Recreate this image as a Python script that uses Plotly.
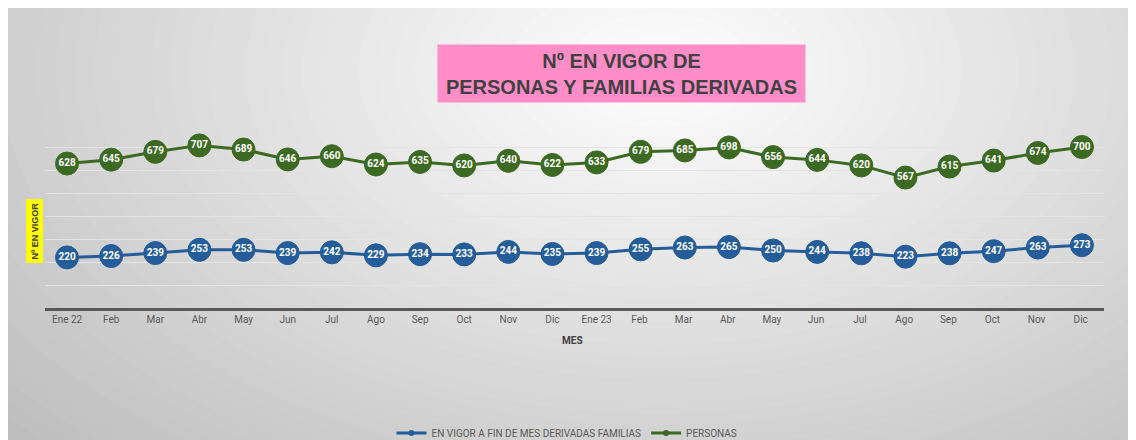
import plotly.graph_objects as go

# ---- data ----
months = ["Ene 22", "Feb", "Mar", "Abr", "May", "Jun", "Jul", "Ago", "Sep", "Oct", "Nov", "Dic",
          "Ene 23", "Feb ", "Mar ", "Abr ", "May ", "Jun ", "Jul ", "Ago ", "Sep ", "Oct ", "Nov ", "Dic "]
familias = [220, 226, 239, 253, 253, 239, 242, 229, 234, 233, 244, 235,
            239, 255, 263, 265, 250, 244, 238, 223, 238, 247, 263, 273]
personas = [628, 645, 679, 707, 689, 646, 660, 624, 635, 620, 640, 622,
            633, 679, 685, 698, 656, 644, 620, 567, 615, 641, 674, 700]
name_fam = "EN VIGOR A FIN DE MES DERIVADAS FAMILIAS"
name_per = "PERSONAS"

# page has an 8px body margin -> figure drawn at offset (8, 8)
OFF = 8
W, H = 1128, 432
ml, mr, mt, mb = 37, 32, 116, 132
pw, ph = W - ml - mr, H - mt - mb

def px2x(px):  # screen px -> paper x
    return (px - OFF - ml) / pw

def py2y(py):  # screen py -> paper y
    return (H - mb - (py - OFF)) / ph

BLUE = "#245d99"
GREEN = "#3d6a22"
TICK_FONT = "Liberation Sans Narrow, Arial Narrow, Roboto, sans-serif"

fig = go.Figure()

for vals, col, nm in [(familias, BLUE, name_fam), (personas, GREEN, name_per)]:
    fig.add_trace(go.Scatter(
        x=months, y=vals, mode="lines+markers+text", name=nm, showlegend=False,
        line=dict(color=col, width=3),
        marker=dict(size=23, color=col, line=dict(color=col, width=1)),
        text=[f"<b>{v}</b>" for v in vals], textposition="middle center",
        textfont=dict(color="white", size=10, family="Roboto, Liberation Sans, sans-serif"),
        cliponaxis=False,
    ))
    fig.add_trace(go.Scatter(
        x=[None], y=[None], mode="lines+markers", name=nm, showlegend=True,
        line=dict(color=col, width=3), marker=dict(size=6, color=col),
    ))

# background radial gradient
shapes = []
cx, cy, a, b = 660, 70, 650, 395
N = 50
rmax = 1.45
for i in range(N):
    r = rmax * (1 - i / N)
    g = int(max(190, min(255, 255 - 47 * r)))
    shapes.append(dict(type="circle", xref="paper", yref="paper", layer="below",
                       x0=px2x(cx - a * r), x1=px2x(cx + a * r),
                       y0=py2y(cy + b * r), y1=py2y(cy - b * r),
                       fillcolor=f"rgb({g},{g},{g})", line=dict(width=0)))

annotations = [
    dict(text="<b>Nº EN VIGOR DE<br>PERSONAS Y FAMILIAS DERIVADAS</b>",
         xref="paper", yref="paper", x=px2x(621), y=py2y(73.5),
         xanchor="center", yanchor="middle", showarrow=False,
         width=365, height=55, bgcolor="#ff8dc8",
         font=dict(family="Liberation Sans, Arial, sans-serif", size=20, color="#404040")),
    dict(text="<b>Nº EN VIGOR</b>", textangle=-90,
         xref="paper", yref="paper", x=px2x(34.5), y=py2y(231),
         xanchor="center", yanchor="middle", showarrow=False,
         bgcolor="#ffff00", borderpad=3,
         font=dict(family="Liberation Sans, Arial, sans-serif", size=9, color="#404040")),
    dict(text="<b>MES</b>", xref="paper", yref="paper", x=px2x(572), y=py2y(340),
         xanchor="center", yanchor="middle", showarrow=False,
         font=dict(family=TICK_FONT, size=10, color="#404040")),
]

fig.update_layout(
    width=W, height=H,
    margin=dict(l=ml, r=mr, t=mt, b=mb, autoexpand=False),
    paper_bgcolor="white", plot_bgcolor="rgba(0,0,0,0)",
    shapes=shapes, annotations=annotations,
    showlegend=True,
    legend=dict(orientation="h", x=px2x(567), y=py2y(433), xanchor="center", yanchor="middle",
                bgcolor="rgba(0,0,0,0)", font=dict(family=TICK_FONT, size=10, color="#595959"),
                itemwidth=30),
    xaxis=dict(type="category", range=[-0.5, len(months) - 0.5], autorange=False,
               showline=True, linecolor="#595959", linewidth=3,
               showgrid=False, ticks="", tickfont=dict(family=TICK_FONT, size=10, color="#595959"),
               fixedrange=True),
    yaxis=dict(range=[0, 800], dtick=100, showticklabels=False, showline=False,
               showgrid=True, gridcolor="rgba(228,228,228,1)", gridwidth=1,
               zeroline=False, fixedrange=True),
)

fig.write_html("out.html")
